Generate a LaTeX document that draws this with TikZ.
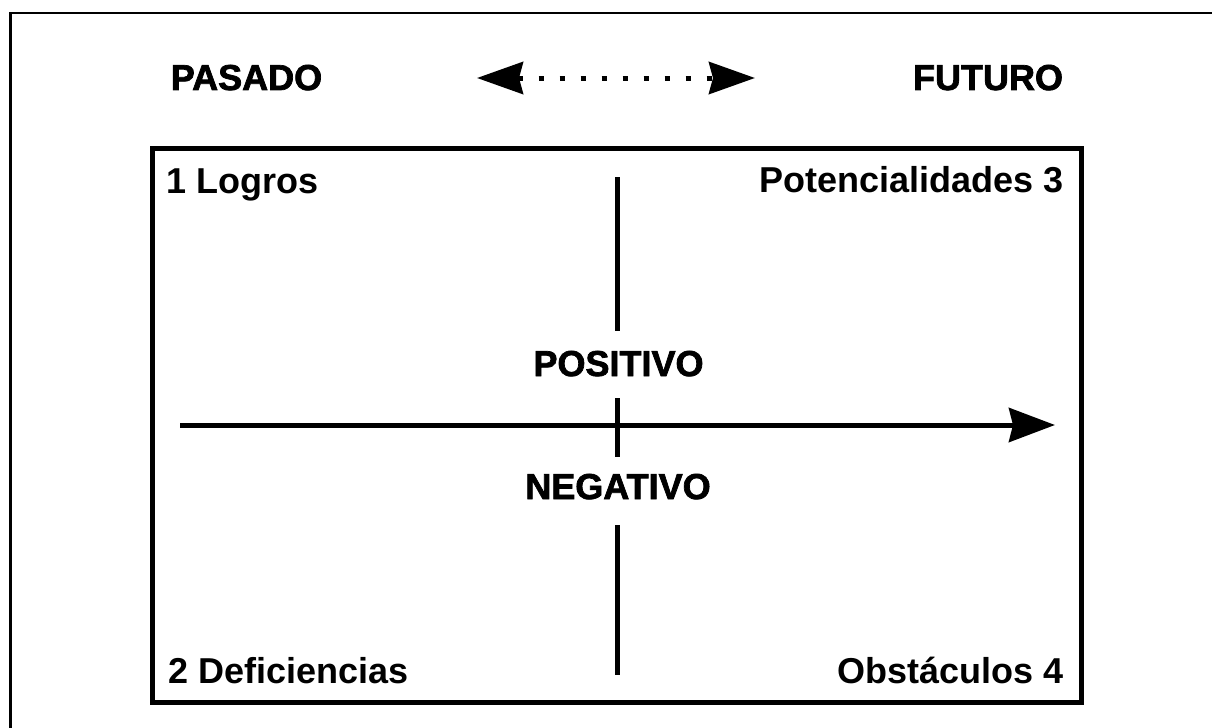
\documentclass[tikz,border=0pt]{standalone}
\usepackage{fontspec}
\setmainfont{Liberation Sans}
\newfontfamily\heavyfont{Liberation Sans}[BoldFeatures={FakeBold=2}]
\usetikzlibrary{arrows.meta}
\tikzset{
  quad/.style={font=\fontsize{18}{22}\selectfont\bfseries, inner sep=0pt},
  axislabel/.style={font=\fontsize{18}{22}\selectfont\heavyfont\bfseries, inner sep=0pt},
  axis/.style={line width=2.5pt},
  bigtip/.style={-{Stealth[length=23pt,width=17pt,inset=2pt]}}
}
\begin{document}
\begin{tikzpicture}[x=0.5pt,y=-0.5pt]
                \useasboundingbox (0,0) rectangle (1212,728);
                \clip (0,0) rectangle (1212,728);
                % outer frame, only its top and left sides fall inside the page
                \draw[line width=1.25pt,overlay] (1300,13) -- (10.5,13) -- (10.5,800);
                \draw[axis] (152.5,148) rectangle (1081,702);

                \node[axislabel,anchor=base] (pasado) at (246.5,90) {PASADO};
                \node[axislabel,anchor=base] (futuro) at (988,90) {FUTURO};
                \coordinate (tL) at (477,78); \coordinate (tR) at (755,78);

                \node[quad,anchor=base west] (logros) at (166,193) {1 Logros};
                \node[quad,anchor=base west] (defic) at (168,683) {2 Deficiencias};
                \node[quad,anchor=base east] (potenc) at (1064,192) {Potencialidades 3};
                \node[quad,anchor=base east] (obstac) at (1064,683) {Obstáculos 4};
                \node[axislabel,anchor=base] (posit) at (618.5,376) {POSITIVO};
                \node[axislabel,anchor=base] (negat) at (618,499) {NEGATIVO};

                \coordinate (hL) at (180,425); \coordinate (hR) at (1055,425);
                \coordinate (v1) at (617,177); \coordinate (v2) at (617,331);
                \coordinate (v3) at (617,398); \coordinate (v4) at (617,457);
                \coordinate (v5) at (617,525); \coordinate (v6) at (617,675);

                \draw[line width=2.5pt,dash pattern=on 2.5pt off 8pt,{Stealth[length=23pt,width=16pt,inset=2pt]}-{Stealth[length=23pt,width=16pt,inset=2pt]}] (tL) to (tR);
                \draw[axis,bigtip] (hL) to (hR);
                \draw[axis] (v1) to (v2); \draw[axis] (v3) to (v4); \draw[axis] (v5) to (v6);
            \end{tikzpicture}
\end{document}
